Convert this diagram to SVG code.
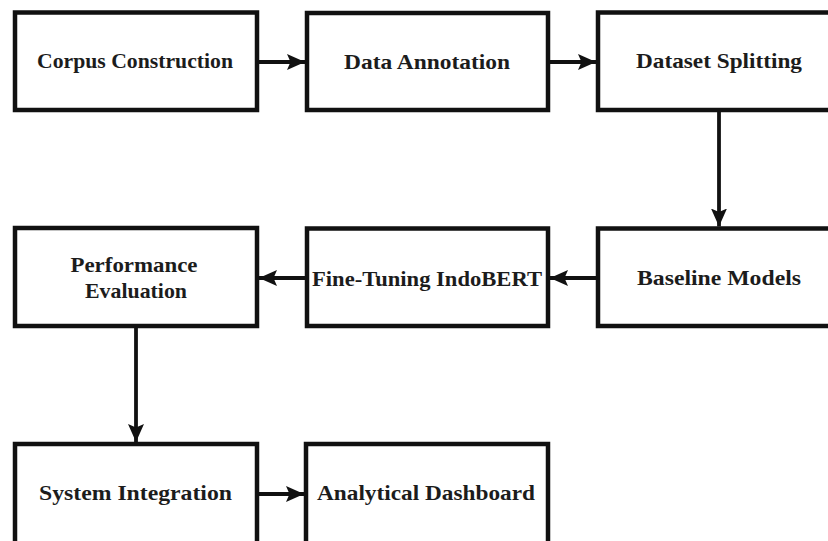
<svg xmlns="http://www.w3.org/2000/svg" width="828" height="541" viewBox="0 0 828 541">
  <style>
    .box { fill: #ffffff; stroke: #111111; stroke-width: 4.5; }
    .lbl { font-family: "Liberation Serif", "Times New Roman", serif; font-weight: bold; font-size: 22px; fill: #1c1c1c; text-anchor: middle; }
    .wire { stroke: #111111; stroke-width: 3.8; fill: none; }
  </style>
  <defs>
    <marker id="head" markerUnits="userSpaceOnUse" markerWidth="20" markerHeight="18" refX="18" refY="8" orient="auto">
      <path d="M0,0 L18,8 L0,16 L3.5,8 z" fill="#111111"/>
    </marker>
  </defs>
  <rect width="828" height="541" fill="#ffffff"/>

  <!-- row 1 -->
  <g id="corpus-construction">
    <rect class="box" x="15" y="12.5" width="242" height="97.5"/>
    <text class="lbl" x="135" y="68" textLength="196" lengthAdjust="spacingAndGlyphs">Corpus Construction</text>
  </g>
  <g id="data-annotation">
    <rect class="box" x="307" y="13" width="241" height="97"/>
    <text class="lbl" x="427" y="69" textLength="166" lengthAdjust="spacingAndGlyphs">Data Annotation</text>
  </g>
  <g id="dataset-splitting">
    <rect class="box" x="598" y="12.5" width="242" height="97.5"/>
    <text class="lbl" x="719" y="68" textLength="166" lengthAdjust="spacingAndGlyphs">Dataset Splitting</text>
  </g>

  <!-- row 2 -->
  <g id="performance-evaluation">
    <rect class="box" x="15" y="228" width="242" height="98"/>
    <text class="lbl" x="134" y="272" textLength="127" lengthAdjust="spacingAndGlyphs">Performance</text>
    <text class="lbl" x="136" y="298" textLength="102" lengthAdjust="spacingAndGlyphs">Evaluation</text>
  </g>
  <g id="fine-tuning-indobert">
    <rect class="box" x="307" y="228.5" width="241" height="97.5"/>
    <text class="lbl" x="427" y="286" textLength="230" lengthAdjust="spacingAndGlyphs">Fine-Tuning IndoBERT</text>
  </g>
  <g id="baseline-models">
    <rect class="box" x="598" y="228.5" width="242" height="97.5"/>
    <text class="lbl" x="719" y="285" textLength="164" lengthAdjust="spacingAndGlyphs">Baseline Models</text>
  </g>

  <!-- row 3 -->
  <g id="system-integration">
    <rect class="box" x="15" y="444" width="242" height="110"/>
    <text class="lbl" x="135.5" y="500" textLength="193" lengthAdjust="spacingAndGlyphs">System Integration</text>
  </g>
  <g id="analytical-dashboard">
    <rect class="box" x="306" y="444" width="242" height="110"/>
    <text class="lbl" x="426" y="500" textLength="218" lengthAdjust="spacingAndGlyphs">Analytical Dashboard</text>
  </g>

  <!-- connectors -->
  <g id="connectors">
    <line class="wire" x1="259" y1="62" x2="305" y2="62" marker-end="url(#head)"/>
    <line class="wire" x1="550" y1="62" x2="596" y2="62" marker-end="url(#head)"/>
    <line class="wire" x1="719" y1="112" x2="719" y2="226.5" marker-end="url(#head)"/>
    <line class="wire" x1="596" y1="278" x2="550" y2="278" marker-end="url(#head)"/>
    <line class="wire" x1="305" y1="278" x2="259" y2="278" marker-end="url(#head)"/>
    <line class="wire" x1="136" y1="328" x2="136" y2="442" marker-end="url(#head)"/>
    <line class="wire" x1="259" y1="494" x2="304" y2="494" marker-end="url(#head)"/>
  </g>
</svg>
